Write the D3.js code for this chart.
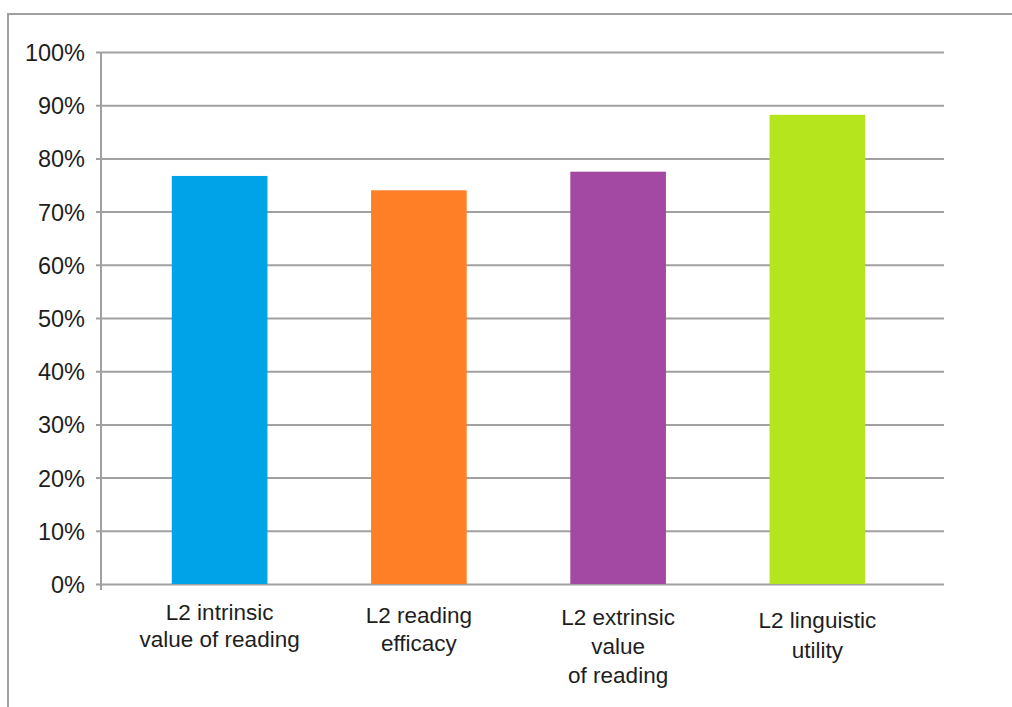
<!DOCTYPE html>
<html>
<head>
<meta charset="utf-8">
<script src="https://cdn.jsdelivr.net/npm/d3@7"></script>
<style>
  body { margin: 0; background: #fff; }
  svg { display: block; font-family: "Liberation Sans", Arial, sans-serif; }
</style>
</head>
<body>
<svg id="chart" width="1012" height="707"></svg>
<script>
// data
var categories = ["intrinsic", "efficacy", "extrinsic", "utility"];
var labelLines = [
  ["L2 intrinsic", "value of reading"],
  ["L2 reading", "efficacy"],
  ["L2 extrinsic", "value", "of reading"],
  ["L2 linguistic", "utility"]
];
var values = [0.767, 0.740, 0.775, 0.882];
var barColors = ["#00a2e8", "#ff7f27", "#a349a4", "#b5e61d"];
var yTicks = [0, 0.1, 0.2, 0.3, 0.4, 0.5, 0.6, 0.7, 0.8, 0.9, 1.0];

var svg = d3.select("#chart");
var gridColor = "#a0a0a0";

// outer frame (top and left edges only visible)
svg.append("path")
  .attr("d", "M8,707 L8,14 L1012,14")
  .attr("fill", "none")
  .attr("stroke", gridColor)
  .attr("stroke-width", 2);

// plot area edges (window.top is taken, so prefixed names)
var plotLeft = 101, plotRight = 944, plotTop = 52, plotBottom = 584;

let yScale = d3.scaleLinear()
  .domain([0, 1])
  .range([plotBottom, plotTop]);

let xScale = d3.scaleBand()
  .domain(categories)
  .range([120, 917])
  .paddingInner(0.52)
  .paddingOuter(0.26);

// gridlines + ticks on the left
svg.append("g")
  .attr("id", "yAxis")
  .attr("transform", "translate(" + plotLeft + ",0)")
  .call(d3.axisLeft(yScale)
    .tickValues(yTicks)
    .tickFormat(d3.format(".0%"))
    .tickSize(-(plotRight - plotLeft))
    .tickSizeOuter(0)
  )
  .call(g => g.select(".domain").remove())
  .call(g => g.selectAll(".tick line")
    .attr("x1", -5)
    .attr("stroke", gridColor)
    .attr("stroke-width", 2))
  .call(g => g.selectAll(".tick text")
    .attr("x", -16)
    .attr("dy", "0.36em")
    .attr("fill", "#1e1e1e")
    .style("font-size", "23.5px")
    .style("font-family", "'Liberation Sans', Arial, sans-serif"));

// vertical axis line
svg.append("line")
  .attr("x1", plotLeft).attr("x2", plotLeft)
  .attr("y1", plotTop).attr("y2", plotBottom + 6)
  .attr("stroke", gridColor)
  .attr("stroke-width", 2);

svg.selectAll(".bar")
  .data(values)
  .join("rect")
  .attr("class", "bar")
  .attr("x", (d, i) => xScale(categories[i]))
  .attr("width", xScale.bandwidth())
  .attr("y", d => yScale(d))
  .attr("height", d => yScale(0) - yScale(d))
  .attr("fill", (d, i) => barColors[i]);

// category labels, one text line per tspan
var labels = svg.selectAll(".cat-label")
  .data(labelLines)
  .join("text")
  .attr("class", "cat-label")
  .attr("text-anchor", "middle")
  .attr("fill", "#1e1e1e")
  .style("font-size", "22.5px");

labels.selectAll("tspan")
  .data((d, i) => d.map(t => ({ t: t, i: i })))
  .join("tspan")
  .attr("x", d => xScale(categories[d.i]) + xScale.bandwidth() / 2)
  .attr("y", (d, j) => 620 + d.i * 2.7 + j * (27 + d.i))
  .text(d => d.t);
</script>
</body>
</html>
